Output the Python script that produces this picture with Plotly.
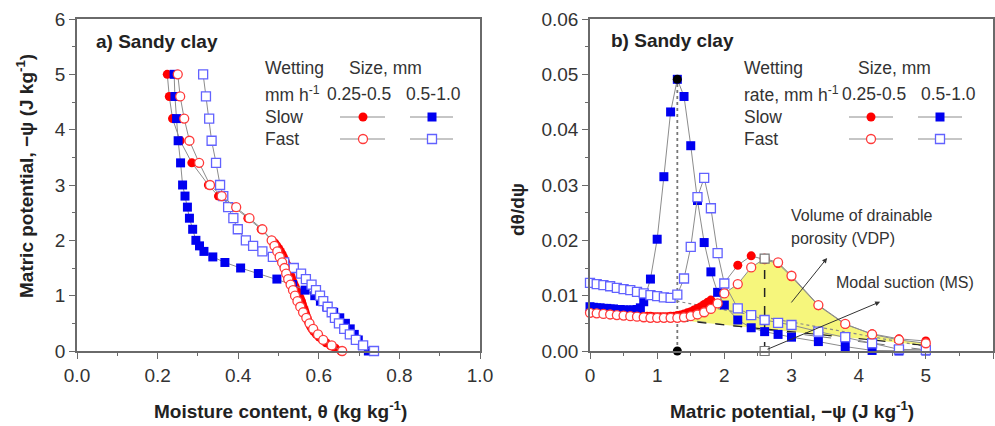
import plotly.graph_objects as go

# ---------------- Panel a data: moisture content (theta) vs matric potential (psi)
a_psi_slow_small = [5.0, 4.6, 4.2, 3.8, 3.4, 3.0, 2.8, 2.6, 2.4, 2.2, 2.0, 1.95, 1.9, 1.85, 1.8, 1.75,
                    1.7, 1.65, 1.6, 1.55, 1.5, 1.45, 1.4, 1.35, 1.3, 1.25, 1.2, 1.15, 1.1, 1.05, 1.0,
                    0.95, 0.9, 0.85, 0.8, 0.75, 0.7, 0.65, 0.6, 0.55, 0.5, 0.45, 0.4, 0.35, 0.3, 0.25,
                    0.2, 0.15, 0.1, 0.05, 0.0]
a_theta_slow_small = [0.224, 0.229, 0.237, 0.256, 0.285, 0.326, 0.351, 0.390, 0.424, 0.457, 0.483, 0.491,
                      0.496, 0.501, 0.505, 0.509, 0.512, 0.515, 0.518, 0.521, 0.524, 0.526, 0.528, 0.531,
                      0.533, 0.536, 0.539, 0.542, 0.545, 0.548, 0.551, 0.554, 0.557, 0.559, 0.561, 0.564,
                      0.566, 0.568, 0.571, 0.573, 0.576, 0.579, 0.583, 0.588, 0.594, 0.601, 0.609, 0.618,
                      0.629, 0.641, 0.655]

a_psi_fast_small = [5.0, 4.6, 4.2, 3.8, 3.4, 3.0, 2.8, 2.6, 2.4, 2.2, 2.0, 1.9, 1.8, 1.7, 1.6, 1.5, 1.4,
                    1.3, 1.2, 1.1, 1.0, 0.9, 0.8, 0.7, 0.6, 0.5, 0.4, 0.3, 0.2, 0.1, 0.0]
a_theta_fast_small = [0.250, 0.256, 0.266, 0.279, 0.303, 0.330, 0.359, 0.395, 0.428, 0.460, 0.483, 0.490,
                      0.497, 0.503, 0.509, 0.515, 0.519, 0.524, 0.530, 0.536, 0.541, 0.547, 0.554, 0.561,
                      0.569, 0.577, 0.586, 0.598, 0.611, 0.632, 0.658]

a_psi_slow_large = [5.0, 4.6, 4.2, 3.8, 3.4, 3.0, 2.8, 2.6, 2.4, 2.2, 2.0, 1.9, 1.8, 1.7, 1.6, 1.5, 1.4,
                    1.3, 1.2, 1.1, 1.0, 0.9, 0.8, 0.7, 0.6, 0.5, 0.4, 0.3, 0.2, 0.1, 0.0]
a_theta_slow_large = [0.241, 0.243, 0.247, 0.251, 0.257, 0.262, 0.268, 0.274, 0.279, 0.287, 0.295, 0.304,
                      0.315, 0.337, 0.367, 0.406, 0.450, 0.496, 0.535, 0.566, 0.590, 0.604, 0.620, 0.637,
                      0.652, 0.666, 0.678, 0.688, 0.698, 0.708, 0.723]

a_psi_fast_large = [5.0, 4.6, 4.2, 3.8, 3.4, 3.0, 2.8, 2.6, 2.4, 2.2, 2.0, 1.9, 1.8, 1.7, 1.6, 1.5, 1.4,
                    1.3, 1.2, 1.1, 1.0, 0.9, 0.8, 0.7, 0.6, 0.5, 0.4, 0.3, 0.2, 0.1, 0.0]
a_theta_fast_large = [0.313, 0.320, 0.328, 0.334, 0.345, 0.355, 0.363, 0.375, 0.388, 0.399, 0.419, 0.437,
                      0.460, 0.486, 0.514, 0.538, 0.556, 0.568, 0.582, 0.593, 0.603, 0.611, 0.622, 0.632,
                      0.640, 0.650, 0.663, 0.677, 0.692, 0.710, 0.737]

# ---------------- Panel b data: d(theta)/d(psi) vs matric potential
b_psi_slow_small = [0.0, 0.05, 0.1, 0.15, 0.2, 0.25, 0.3, 0.35, 0.4, 0.45, 0.5, 0.55, 0.6, 0.65, 0.7,
                    0.75, 0.8, 0.85, 0.9, 0.95, 1.0, 1.05, 1.1, 1.15, 1.2, 1.25, 1.3, 1.35, 1.4, 1.45,
                    1.5, 1.55, 1.6, 1.65, 1.7, 1.75, 1.8, 2.2, 2.4, 2.6, 2.8, 3.0, 3.4, 3.8, 4.2, 4.6, 5.0]
b_d_slow_small = [0.0071, 0.0071, 0.0070, 0.0070, 0.0069, 0.0069, 0.0068, 0.0068, 0.0067, 0.0067, 0.0066,
                  0.0066, 0.0065, 0.0065, 0.0064, 0.0064, 0.0063, 0.0063, 0.0063, 0.0062, 0.0062, 0.0062,
                  0.0062, 0.0062, 0.0063, 0.0063, 0.0064, 0.0065, 0.0067, 0.0069, 0.0071, 0.0074, 0.0077,
                  0.0080, 0.0084, 0.0088, 0.0092, 0.0155, 0.0172, 0.0165, 0.0158, 0.0134, 0.0082, 0.0048,
                  0.0031, 0.0022, 0.0018]

b_psi_fast_small = [0.0, 0.1, 0.2, 0.3, 0.4, 0.5, 0.6, 0.7, 0.8, 0.9, 1.0, 1.1, 1.2, 1.3, 1.4, 1.5, 1.6,
                    1.7, 1.8, 1.9, 2.0, 2.2, 2.4, 2.6, 2.8, 3.0, 3.4, 3.8, 4.2, 4.6, 5.0]
b_d_fast_small = [0.0069, 0.0068, 0.0067, 0.0066, 0.0065, 0.0064, 0.0063, 0.0062, 0.0061, 0.0060, 0.0060,
                  0.0060, 0.0060, 0.0060, 0.0061, 0.0063, 0.0066, 0.0070, 0.0076, 0.0086, 0.0104, 0.0121,
                  0.0151, 0.0167, 0.0160, 0.0136, 0.0083, 0.0049, 0.0030, 0.0020, 0.0014]

b_psi_slow_large = [0.0, 0.05, 0.1, 0.15, 0.2, 0.25, 0.3, 0.35, 0.4, 0.45, 0.5, 0.55, 0.6, 0.65, 0.7, 0.75,
                    0.8, 0.9, 1.0, 1.1, 1.2, 1.3, 1.4, 1.5, 1.6, 1.7, 1.8, 1.9, 2.0, 2.2, 2.4, 2.6, 2.8,
                    3.0, 3.4, 3.8, 4.2, 4.6, 5.0]
b_d_slow_large = [0.0080, 0.0079, 0.0078, 0.0078, 0.0077, 0.0077, 0.0076, 0.0076, 0.0075, 0.0075, 0.0074,
                  0.0074, 0.0074, 0.0074, 0.0075, 0.0078, 0.0089, 0.0130, 0.0202, 0.0315, 0.0432, 0.0491,
                  0.0460, 0.0371, 0.0272, 0.0196, 0.0143, 0.0106, 0.0083, 0.0056, 0.0042, 0.0035, 0.0030,
                  0.0025, 0.0017, 0.0008, 0.0001, 0.0000, 0.0000]

b_psi_fast_large = [0.0, 0.1, 0.2, 0.3, 0.4, 0.5, 0.6, 0.7, 0.8, 0.9, 1.0, 1.1, 1.2, 1.3, 1.4, 1.5, 1.6,
                    1.7, 1.8, 1.9, 2.0, 2.2, 2.4, 2.6, 2.8, 3.0, 3.4, 3.8, 4.2, 4.6, 5.0]
b_d_fast_large = [0.0123, 0.0121, 0.0119, 0.0117, 0.0114, 0.0112, 0.0110, 0.0107, 0.0104, 0.0101, 0.0099,
                  0.0097, 0.0096, 0.0102, 0.0131, 0.0188, 0.0278, 0.0313, 0.0258, 0.0177, 0.0122, 0.0077,
                  0.0065, 0.0056, 0.0051, 0.0047, 0.0035, 0.0025, 0.0014, 0.0003, 0.0002]

# reference / construction lines in panel b
baseline_psi = [0.0, 5.0]
baseline_black = [0.0072, 0.0010]
baseline_gray = [0.0078, 0.0002]
baseline_dot_psi = [1.2, 5.0]
baseline_dot = [0.0092, 0.0008]
peak_psi = 1.3
peak_val = 0.0491
ms_psi = 2.6
ms_val = 0.0167
vdp_start_psi = 1.52

x_ticks_a = [0.0, 0.2, 0.4, 0.6, 0.8, 1.0]
y_ticks_a = [0, 1, 2, 3, 4, 5, 6]
x_ticks_b = [0, 1, 2, 3, 4, 5, 6]
y_ticks_b = [0.00, 0.01, 0.02, 0.03, 0.04, 0.05, 0.06]

# ---------------- styles
FONT = "Liberation Sans, Arial, sans-serif"
RED = "#ff0000"
BLUE = "#0000f0"
RED_O = "#ff3a3a"
BLUE_O = "#6262ff"
LINE = "#8c8c8c"
AX = "#6a6a6a"
TXT = "#333333"

W, H = 995, 426
ML, MR, MT, MB = 77, 2, 19, 75
PW, PH = W - ML - MR, H - MT - MB


def px(xp):
    return (xp - ML) / PW


def py(yp):
    return (H - MB - yp) / PH


fig = go.Figure()


def series(x, y, xa, ya, symbol, fill, edge, size=9):
    fig.add_trace(go.Scatter(
        x=x, y=y, xaxis=xa, yaxis=ya, mode="lines+markers", cliponaxis=False,
        line=dict(color=LINE, width=1),
        marker=dict(symbol=symbol, size=size, color=fill,
                    line=dict(color=edge, width=1.3 if fill == "white" else 0)),
        showlegend=False, hoverinfo="skip"))


# panel a
series(a_theta_slow_small, a_psi_slow_small, "x", "y", "circle", RED, RED)
series(a_theta_slow_large, a_psi_slow_large, "x", "y", "square", BLUE, BLUE)
series(a_theta_fast_large, a_psi_fast_large, "x", "y", "square", "white", BLUE_O)
series(a_theta_fast_small, a_psi_fast_small, "x", "y", "circle", "white", RED_O)

# panel b: VDP fill between fast small curve and black baseline
slope = (baseline_black[1] - baseline_black[0]) / (baseline_psi[1] - baseline_psi[0])
fx = [vdp_start_psi] + [p for p in b_psi_fast_small if p > vdp_start_psi]
fy = [baseline_black[0] + slope * vdp_start_psi] + \
     [v for p, v in zip(b_psi_fast_small, b_d_fast_small) if p > vdp_start_psi]
fx_back = [baseline_psi[1]]
fy_back = [baseline_black[1]]
fig.add_trace(go.Scatter(x=fx + fx_back + [fx[0]], y=fy + fy_back + [fy[0]], xaxis="x2", yaxis="y2",
                         mode="lines", fill="toself", fillcolor="#f6f67c", line=dict(width=0),
                         showlegend=False, hoverinfo="skip"))

# construction lines
fig.add_trace(go.Scatter(x=baseline_psi, y=baseline_gray, xaxis="x2", yaxis="y2", mode="lines",
                         line=dict(color="#777777", width=1, dash="dash"), showlegend=False))
fig.add_trace(go.Scatter(x=baseline_dot_psi, y=baseline_dot, xaxis="x2", yaxis="y2", mode="lines",
                         line=dict(color="#888888", width=1.2, dash="dot"), showlegend=False))
fig.add_trace(go.Scatter(x=baseline_psi, y=baseline_black, xaxis="x2", yaxis="y2", mode="lines",
                         line=dict(color="#222222", width=1.2, dash="dash"), showlegend=False))
fig.add_trace(go.Scatter(x=[peak_psi, peak_psi], y=[0, peak_val], xaxis="x2", yaxis="y2", mode="lines",
                         line=dict(color="#777777", width=1.8, dash="dot"), showlegend=False))
fig.add_trace(go.Scatter(x=[ms_psi, ms_psi], y=[0, ms_val], xaxis="x2", yaxis="y2", mode="lines",
                         line=dict(color="#222222", width=1.5, dash="dash"), showlegend=False))

series(b_psi_slow_small, b_d_slow_small, "x2", "y2", "circle", RED, RED)
series(b_psi_slow_large, b_d_slow_large, "x2", "y2", "square", BLUE, BLUE)
series(b_psi_fast_large, b_d_fast_large, "x2", "y2", "square", "white", BLUE_O)
series(b_psi_fast_small, b_d_fast_small, "x2", "y2", "circle", "white", RED_O)

# markers of peak and modal suction
fig.add_trace(go.Scatter(x=[peak_psi, peak_psi], y=[peak_val, 0], xaxis="x2", yaxis="y2", mode="markers",
                         cliponaxis=False, marker=dict(symbol="circle", size=9, color="black"),
                         showlegend=False))
fig.add_trace(go.Scatter(x=[ms_psi, ms_psi], y=[ms_val, 0], xaxis="x2", yaxis="y2", mode="markers",
                         cliponaxis=False,
                         marker=dict(symbol="square", size=9, color="white", line=dict(color="#777777", width=1.2)),
                         showlegend=False))

axis_common = dict(showgrid=False, zeroline=False, showline=True, linecolor=AX, linewidth=1.5,
                   mirror=True, ticks="outside", ticklen=6, tickwidth=1.3, tickcolor=AX, automargin=False,
                   tickfont=dict(family=FONT, size=19, color=TXT),
                   minor=dict(ticks="outside", ticklen=3, tickcolor=AX, tickwidth=1.2))
mirror_common = dict(showgrid=False, zeroline=False, showline=False, ticks="inside", ticklen=5,
                     tickwidth=1.3, tickcolor=AX, showticklabels=False, automargin=False)

fig.update_layout(
    width=W, height=H, margin=dict(l=ML, r=MR, t=MT, b=MB, autoexpand=False),
    paper_bgcolor="white", plot_bgcolor="white", showlegend=False,
    xaxis=dict(axis_common, domain=[0, px(480)], range=[0, 1], tickvals=x_ticks_a, tickformat=".1f",
               anchor="y", minor=dict(axis_common["minor"], dtick=0.1)),
    yaxis=dict(axis_common, domain=[0, 1], range=[0, 6], tickvals=y_ticks_a, anchor="x",
               minor=dict(axis_common["minor"], dtick=0.5)),
    xaxis2=dict(axis_common, domain=[px(590), 1], range=[0, 6], tickvals=x_ticks_b, anchor="y2",
                minor=dict(axis_common["minor"], dtick=0.5)),
    yaxis2=dict(axis_common, domain=[0, 1], range=[0, 0.06], tickvals=y_ticks_b, tickformat=".2f",
                anchor="x2", minor=dict(axis_common["minor"], dtick=0.005)),
    xaxis3=dict(mirror_common, overlaying="x", side="top", anchor="y", range=[0, 1], tickvals=x_ticks_a),
    yaxis3=dict(mirror_common, overlaying="y", side="right", anchor="x", range=[0, 6], tickvals=y_ticks_a),
    xaxis4=dict(mirror_common, overlaying="x2", side="top", anchor="y2", range=[0, 6], tickvals=x_ticks_b),
    yaxis4=dict(mirror_common, overlaying="y2", side="right", anchor="x2", range=[0, 0.06],
                tickvals=y_ticks_b),
)

ann = []


def text(t, xp, yp, size=17.5, bold=False, anchor="left", angle=0):
    s = f"<b>{t}</b>" if bold else t
    ann.append(dict(text=s, x=px(xp), y=py(yp), xref="paper", yref="paper", xanchor=anchor,
                    yanchor="middle", showarrow=False, textangle=angle,
                    font=dict(family=FONT, size=size, color=TXT if not bold else "#222222")))


# titles
text("a) Sandy clay", 94, 42, 19, True)
text("b) Sandy clay", 609, 40, 19, True)
text("Moisture content, θ (kg kg<sup>-1</sup>)", 280, 410, 19, True, "center")
text("Matric potential, −ψ (J kg<sup>-1</sup>)", 792, 410, 19, True, "center")
text("Matric potential, −ψ (J kg<sup>-1</sup>)", 25, 176, 19, True, "center", -90)
text("dθ/dψ", 517, 210, 19, True, "center", -90)

# legend texts
for (x0, lab2, sx, c1, c2) in [(263, "mm h<sup>-1</sup>", 347, 325, 404),
                               (742, "rate, mm h<sup>-1</sup>", 856, 840, 919)]:
    text("Wetting", x0, 68)
    text("Size, mm", sx, 68)
    text(lab2, x0, 94)
    text("0.25-0.5", c1, 94)
    text("0.5-1.0", c2, 94)
    text("Slow", x0, 117)
    text("Fast", x0, 139)

# annotations panel b
text("Volume of drainable", 789, 215, 16)
text("porosity (VDP)", 789, 238, 16)
text("Modal suction (MS)", 834, 282, 16)

ann.append(dict(x=3.53, y=0.0168, ax=2.98, ay=0.0085, xref="x2", yref="y2", axref="x2", ayref="y2",
                showarrow=True, arrowhead=2, arrowsize=1, arrowwidth=1, arrowcolor="#333333", text=""))
ann.append(dict(x=4.32, y=0.0089, ax=2.62, ay=0.0002, xref="x2", yref="y2", axref="x2", ayref="y2",
                showarrow=True, arrowhead=2, arrowsize=1, arrowwidth=1, arrowcolor="#333333", text=""))

fig.update_layout(annotations=ann)

# legend sample glyphs (shapes in paper coords)
shapes = []
for (l1, l2, s1, s2) in [((340, 385), (410, 453), 363, 432), ((849, 893), (918, 962), 871, 940)]:
    for yy, filled in [(117, True), (139, False)]:
        for (la, lb), cx, kind, col, ocol in [(l1, s1, "circle", RED, RED_O), (l2, s2, "rect", BLUE, BLUE_O)]:
            shapes.append(dict(type="line", xref="paper", yref="paper", x0=px(la), x1=px(lb),
                               y0=py(yy), y1=py(yy), line=dict(color=LINE, width=1)))
            shapes.append(dict(type=kind, xref="paper", yref="paper", xsizemode="pixel", ysizemode="pixel",
                               xanchor=px(cx), yanchor=py(yy), x0=-4.5, x1=4.5, y0=-4.5, y1=4.5,
                               fillcolor=col if filled else "white",
                               line=dict(color=col if filled else ocol, width=0 if filled else 1.3)))
fig.update_layout(shapes=shapes)

fig.write_html("out.html", config={"displayModeBar": False},
               post_script="document.body.style.margin='0';document.body.style.overflow='hidden';")
